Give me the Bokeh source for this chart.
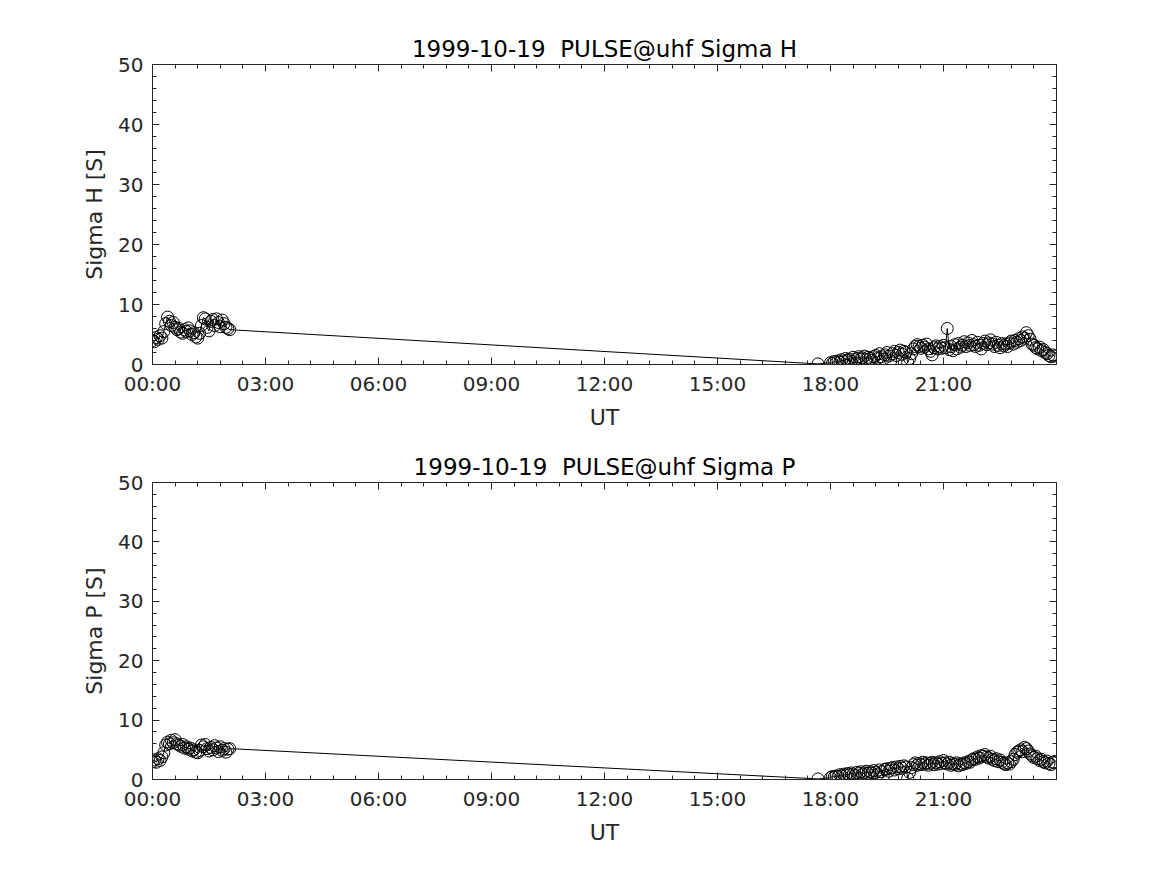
import pandas as pd
from bokeh.plotting import figure
from bokeh.layouts import column
from bokeh.models import (DatetimeAxis, LinearAxis, FixedTicker, DatetimeTickFormatter,
                          Range1d, Title)
from bokeh.embed import file_html
from bokeh.resources import INLINE

DATE = "1999-10-19"

times = [
    "00:00", "00:03", "00:06", "00:09", "00:12", "00:15", "00:18", "00:21", "00:24", "00:27",
    "00:30", "00:33", "00:36", "00:39", "00:42", "00:45", "00:48", "00:51", "00:54", "00:57",
    "01:00", "01:03", "01:06", "01:09", "01:12", "01:15", "01:18", "01:21", "01:24", "01:27",
    "01:30", "01:33", "01:36", "01:39", "01:42", "01:45", "01:48", "01:51", "01:54", "01:57",
    "02:00", "02:03",
    "17:40",
    "18:00", "18:03", "18:06", "18:09", "18:12", "18:15", "18:18", "18:21", "18:24", "18:27",
    "18:30", "18:33", "18:36", "18:39", "18:42", "18:45", "18:48", "18:51", "18:54", "18:57",
    "19:00", "19:03", "19:06", "19:09", "19:12", "19:15", "19:18", "19:21", "19:24", "19:27",
    "19:30", "19:33", "19:36", "19:39", "19:42", "19:45", "19:48", "19:51", "19:54", "19:57",
    "20:00", "20:03", "20:06", "20:09", "20:12", "20:15", "20:18", "20:21", "20:24", "20:27",
    "20:30", "20:33", "20:36", "20:39", "20:42", "20:45", "20:48", "20:51", "20:54", "20:57",
    "21:00", "21:03", "21:06", "21:09", "21:12", "21:15", "21:18", "21:21", "21:24", "21:27",
    "21:30", "21:33", "21:36", "21:39", "21:42", "21:45", "21:48", "21:51", "21:54", "21:57",
    "22:00", "22:03", "22:06", "22:09", "22:12", "22:15", "22:18", "22:21", "22:24", "22:27",
    "22:30", "22:33", "22:36", "22:39", "22:42", "22:45", "22:48", "22:51", "22:54", "22:57",
    "23:00", "23:03", "23:06", "23:09", "23:12", "23:15", "23:18", "23:21", "23:24", "23:27",
    "23:30", "23:33", "23:36", "23:39", "23:42", "23:45", "23:48", "23:51", "23:54", "23:57",
]

sigma_h = [
    4.0, 3.8, 4.5, 4.2, 4.8, 4.4, 5.5, 6.8, 7.9, 7.2,
    6.5, 7.0, 6.2, 5.8, 6.0, 5.4, 5.2, 5.8, 5.5, 6.1,
    5.6, 5.0, 5.3, 4.6, 4.4, 5.2, 6.5, 7.8, 7.6, 6.2,
    5.6, 7.2, 7.5, 6.5, 7.6, 7.0, 6.3, 7.4, 6.8, 6.2,
    6.0, 5.8,
    0.1,
    0.3, 0.2, 0.5, 0.3, 0.6, 0.4, 0.8, 0.5, 1.0, 0.7,
    0.9, 0.5, 1.2, 0.8, 1.0, 1.3, 0.9, 1.1, 1.4, 0.8,
    1.2, 1.0, 0.7, 1.3, 1.5, 1.0, 1.8, 1.3, 0.9, 1.6,
    2.0, 1.4, 0.6, 1.8, 2.2, 1.5, 2.0, 2.4, 1.7, 2.2,
    2.0, 0.3, 1.0, 1.8, 2.6, 3.0, 3.3, 3.0, 2.7, 3.2,
    2.9, 3.4, 2.6, 2.2, 1.6, 2.8, 3.1, 2.6, 3.0, 2.7,
    3.2, 2.8, 6.0, 2.5, 3.0, 2.3, 3.3, 2.6, 3.5, 2.9,
    3.2, 3.8, 3.0, 3.6, 3.2, 4.0, 3.3, 3.0, 3.7, 3.2,
    2.6, 3.5, 3.9, 3.3, 3.6, 4.1, 3.4, 3.0, 3.7, 3.2,
    2.8, 3.5, 3.1, 3.4, 3.0, 3.6, 3.9, 3.4, 4.0, 3.7,
    4.3, 4.0, 4.6, 4.4, 5.3, 4.8, 4.2, 3.4, 3.2, 2.8,
    2.6, 2.9, 2.3, 2.5, 2.0, 1.8, 1.5, 1.3, 1.6, 1.4,
]

sigma_p = [
    3.0, 3.3, 2.9, 3.5, 3.2, 3.8, 4.5, 5.8, 6.3, 6.0,
    6.6, 6.2, 6.7, 6.0, 5.8, 5.6, 5.9, 5.3, 5.5, 5.1,
    5.3, 4.8, 5.0, 4.6, 4.5, 4.9, 5.8, 5.5, 5.9, 5.2,
    4.8, 5.4, 5.0, 5.7, 5.3, 4.7, 5.5, 4.9, 5.2, 4.6,
    5.1, 5.2,
    0.1,
    0.3, 0.5, 0.4, 0.6, 0.5, 0.8, 0.6, 0.9, 0.7, 1.0,
    0.8, 1.1, 0.9, 0.7, 1.2, 1.0, 1.3, 0.9, 1.1, 1.4,
    1.0, 1.3, 1.1, 1.5, 1.2, 0.8, 1.6, 1.3, 0.5, 1.7,
    1.8, 1.4, 1.9, 2.0, 1.6, 2.1, 1.8, 2.2, 1.9, 2.3,
    2.1, 0.2, 1.2, 2.0, 2.5, 2.8, 2.4, 2.7, 2.5, 2.9,
    2.6, 2.8, 2.4, 2.7, 2.9, 2.5, 2.8, 2.6, 3.0, 2.7,
    3.2, 2.8, 2.6, 2.9, 2.4, 2.7, 2.5, 2.8, 2.3, 2.6,
    2.5, 2.8, 2.7, 3.0, 2.9, 3.3, 3.5, 3.4, 3.8, 3.6,
    4.0, 3.9, 4.2, 3.8, 3.6, 3.9, 3.4, 3.2, 3.5, 3.0,
    3.3, 2.9, 2.7, 2.5, 2.8, 2.6, 3.0, 3.4, 4.2, 4.6,
    4.8, 5.0, 4.7, 5.4, 5.2, 4.8, 4.3, 4.0, 3.7, 3.9,
    3.5, 3.2, 3.4, 3.0, 2.8, 3.1, 2.7, 2.5, 2.9, 2.8,
]

x_tick_labels = ["00:00", "03:00", "06:00", "09:00", "12:00", "15:00", "18:00", "21:00"]
y_ticks = [0, 10, 20, 30, 40, 50]

x = pd.to_datetime([f"{DATE} {t}" for t in times])

start = pd.Timestamp(f"{DATE} 00:00")
end = start + pd.Timedelta(hours=24)


def ms(ts):
    return ts.value / 1e6


major_x = [ms(pd.Timestamp(f"{DATE} {t}")) for t in x_tick_labels]
minor_x = [ms(start + pd.Timedelta(minutes=36 * i)) for i in range(41)]
minor_y = list(range(0, 51, 2))

FONT = "DejaVu Sans"
TXT = "#262626"


def style_axis(ax, show_labels):
    ax.axis_line_color = TXT
    ax.axis_line_width = 1
    ax.major_tick_in = 7
    ax.major_tick_out = 0
    ax.minor_tick_in = 4
    ax.minor_tick_out = 0
    ax.major_tick_line_color = TXT
    ax.minor_tick_line_color = TXT
    ax.major_label_text_font = FONT
    ax.major_label_text_color = TXT
    ax.axis_label_text_font = FONT
    ax.axis_label_text_color = TXT
    ax.axis_label_text_font_style = "normal"
    ax.axis_label_text_font_size = "22px"
    if show_labels:
        ax.major_label_text_font_size = "20px"
    else:
        ax.major_label_text_font_size = "0px"
        ax.major_label_standoff = 0


def make_panel(y, title, ylabel, height, border_top, border_bottom):
    p = figure(width=1151, height=height, output_backend="svg", toolbar_location=None,
               x_axis_type=None, y_axis_type=None,
               x_range=Range1d(ms(start), ms(end)), y_range=Range1d(0, 50),
               min_border_left=152, min_border_right=95,
               min_border_top=border_top, min_border_bottom=border_bottom)
    p.outline_line_color = None
    p.background_fill_color = "white"
    p.border_fill_color = "white"

    xt = FixedTicker(ticks=major_x, minor_ticks=minor_x)
    yt = FixedTicker(ticks=y_ticks, minor_ticks=minor_y)
    fmt = DatetimeTickFormatter(hours="%H:%M", minutes="%H:%M", days="%H:%M", hourmin="%H:%M")

    xb = DatetimeAxis(ticker=xt, formatter=fmt, axis_label="UT")
    style_axis(xb, True)
    xb.major_label_standoff = 7
    xb.axis_label_standoff = 6
    xa = DatetimeAxis(ticker=xt, formatter=fmt)
    style_axis(xa, False)
    yl = LinearAxis(ticker=yt, axis_label=ylabel)
    style_axis(yl, True)
    yl.major_label_standoff = 9
    yl.axis_label_standoff = 8
    yr = LinearAxis(ticker=yt)
    style_axis(yr, False)
    p.add_layout(xb, "below")
    p.add_layout(xa, "above")
    p.add_layout(yl, "left")
    p.add_layout(yr, "right")

    p.xgrid.ticker = xt
    p.ygrid.ticker = yt
    p.xgrid.grid_line_color = "#dcdcdc"
    p.ygrid.grid_line_color = "#dcdcdc"

    p.title = Title(text=title, align="center", text_font=FONT, text_font_size="23px",
                    text_font_style="normal", text_color="black", standoff=6)

    p.line(x, y, line_color="black", line_width=1)
    p.scatter(x, y, marker="circle", size=12, fill_color=None, line_color="black", line_width=1)
    return p


p1 = make_panel(sigma_h, f"{DATE}\u00a0 PULSE@uhf Sigma H", "Sigma H [S]", 448, 64, 84)
p2 = make_panel(sigma_p, f"{DATE}\u00a0 PULSE@uhf Sigma P", "Sigma P [S]", 401, 33, 70)

layout = column(p1, p2)
open("out.html", "w").write(file_html(layout, INLINE))
